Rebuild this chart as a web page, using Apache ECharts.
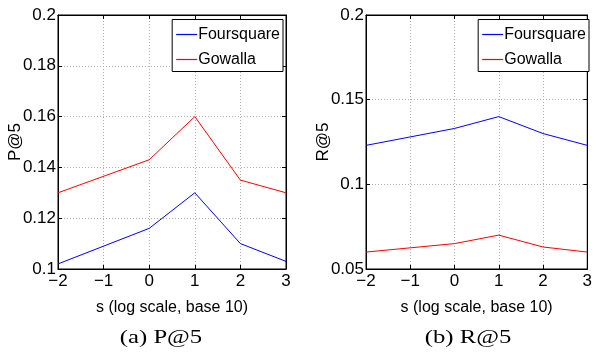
<!DOCTYPE html>
<html>
<head>
<meta charset="utf-8">
<script src="https://cdn.jsdelivr.net/npm/echarts@6/dist/echarts.min.js"></script>
<style>
html,body{margin:0;padding:0;background:#fff;}
#c{width:595px;height:352px;}
</style>
</head>
<body>
<div id="c"></div>
<script>
// ---- data ----
var sValues = [-2, 0, 1, 2, 3];            // log10(s)
var xTicks = [-2, -1, 0, 1, 2, 3];
var seriesNames = ['Foursquare', 'Gowalla'];
var p5Foursquare = [0.102, 0.116, 0.130, 0.110, 0.103];
var p5Gowalla    = [0.130, 0.143, 0.160, 0.135, 0.130];
var r5Foursquare = [0.123, 0.133, 0.140, 0.130, 0.123];
var r5Gowalla    = [0.060, 0.065, 0.070, 0.063, 0.060];
var p5Ticks = [0.1, 0.12, 0.14, 0.16, 0.18, 0.2];
var r5Ticks = [0.05, 0.1, 0.15, 0.2];
var captions = ['(a) P@5', '(b) R@5'];
var yNames = ['P@5', 'R@5'];
var xName = 's (log scale, base 10)';

var SANS = '"Liberation Sans Narrow","Arial Narrow","Liberation Sans",Arial,sans-serif';
var SERIF = '"Liberation Serif","Times New Roman",serif';
var BLUE = '#0000ff', RED = '#ff0000';

function pairs(xs, ys){ return xs.map(function(x,i){ return [x, ys[i]]; }); }
function fmtX(v){ return v < 0 ? '\u2212' + Math.abs(v) : String(v); }
function fmtY(v){ return String(parseFloat(v.toFixed(4))); }

var grids = [
  {left: 58, right: 309, top: 15, bottom: 83},
  {left: 366, right: 2.5, top: 15, bottom: 83}
];
var yRanges = [
  {min: p5Ticks[0], max: p5Ticks[p5Ticks.length-1], interval: p5Ticks[1]-p5Ticks[0]},
  {min: r5Ticks[0], max: r5Ticks[r5Ticks.length-1], interval: r5Ticks[1]-r5Ticks[0]}
];

var xAxes = [], yAxes = [], series = [], legends = [], graphics = [];
var gridOpts = [];
var legendRight = [312, 6];
var capX = [161, 468];

for (var g = 0; g < 2; g++) {
  gridOpts.push(Object.assign({show: true, borderColor: '#000', borderWidth: 1, backgroundColor: '#fff'}, grids[g]));
  xAxes.push({
    type: 'value', gridIndex: g, min: xTicks[0], max: xTicks[xTicks.length-1], interval: 1,
    position: 'bottom',
    name: xName, nameLocation: 'middle', nameGap: 31, nameMoveOverlap: false,
    nameTextStyle: {fontFamily: SANS, fontSize: 16, color: '#000'},
    axisLine: {show: true, onZero: false, lineStyle: {color: '#000', width: 1}},
    axisTick: {show: true, inside: true, length: 4, lineStyle: {color: '#000'}},
    axisLabel: {fontFamily: SANS, fontSize: 17, color: '#000', margin: 4, formatter: fmtX},
    splitLine: {show: true, lineStyle: {color: '#b0b0b0', type: [1, 2], width: 1}}
  });
  xAxes.push({
    type: 'value', gridIndex: g, min: xTicks[0], max: xTicks[xTicks.length-1], interval: 1,
    position: 'top',
    axisLine: {show: true, onZero: false, lineStyle: {color: '#000', width: 1}},
    axisTick: {show: true, inside: true, length: 4, lineStyle: {color: '#000'}},
    axisLabel: {show: false}, splitLine: {show: false}
  });
  yAxes.push({
    type: 'value', gridIndex: g, min: yRanges[g].min, max: yRanges[g].max, interval: yRanges[g].interval,
    position: 'left',
    name: yNames[g], nameLocation: 'middle', nameRotate: 90, nameGap: 34, nameMoveOverlap: false,
    nameTextStyle: {fontFamily: SANS, fontSize: 17, color: '#000'},
    axisLine: {show: true, onZero: false, lineStyle: {color: '#000', width: 1}},
    axisTick: {show: true, inside: true, length: 4, lineStyle: {color: '#000'}},
    axisLabel: {fontFamily: SANS, fontSize: 17, color: '#000', margin: 2, formatter: fmtY},
    splitLine: {show: true, lineStyle: {color: '#b0b0b0', type: [1, 2], width: 1}}
  });
  yAxes.push({
    type: 'value', gridIndex: g, min: yRanges[g].min, max: yRanges[g].max, interval: yRanges[g].interval,
    position: 'right',
    axisLine: {show: true, onZero: false, lineStyle: {color: '#000', width: 1}},
    axisTick: {show: true, inside: true, length: 4, lineStyle: {color: '#000'}},
    axisLabel: {show: false}, splitLine: {show: false}
  });
  var dataF = g === 0 ? p5Foursquare : r5Foursquare;
  var dataG = g === 0 ? p5Gowalla : r5Gowalla;
  series.push({
    name: seriesNames[0], type: 'line', xAxisIndex: 2*g, yAxisIndex: 2*g,
    data: pairs(sValues, dataF), showSymbol: false, symbol: 'none',
    lineStyle: {color: BLUE, width: 1}, itemStyle: {color: BLUE}, animation: false
  });
  series.push({
    name: seriesNames[1], type: 'line', xAxisIndex: 2*g, yAxisIndex: 2*g,
    data: pairs(sValues, dataG), showSymbol: false, symbol: 'none',
    lineStyle: {color: RED, width: 1}, itemStyle: {color: RED}, animation: false
  });
  legends.push({
    orient: 'vertical', right: legendRight[g], top: 19.5,
    data: seriesNames.map(function(n){ return {name: n}; }),
    icon: 'rect', itemWidth: 21, itemHeight: 1.2, itemGap: 7,
    padding: [6, 3, 3, 4],
    backgroundColor: '#fff', borderColor: '#000', borderWidth: 1,
    textStyle: {fontFamily: SANS, fontSize: 16, color: '#000', lineHeight: 18, padding: [0,0,0,-4]},
    selectedMode: false
  });
  graphics.push({
    type: 'text', x: capX[g], y: 338, scaleX: 1.3,
    style: {text: captions[g], font: '19px ' + SERIF, fill: '#000',
            textAlign: 'center', align: 'center', textVerticalAlign: 'middle', verticalAlign: 'middle'}
  });
}

var chart = echarts.init(document.getElementById('c'), null, {renderer: 'canvas'});
chart.setOption({
  animation: false,
  backgroundColor: '#fff',
  grid: gridOpts,
  xAxis: xAxes,
  yAxis: yAxes,
  series: series,
  legend: legends,
  graphic: graphics
});
</script>
</body>
</html>
